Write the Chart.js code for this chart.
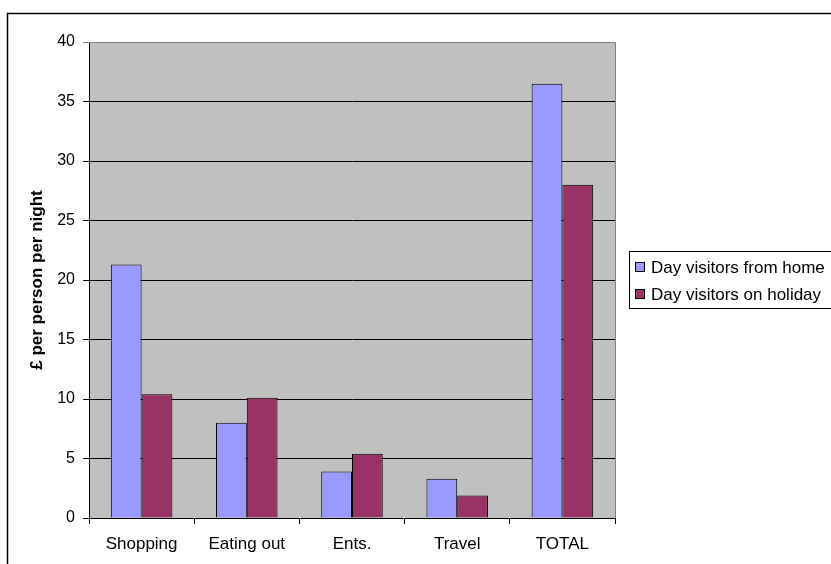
<!DOCTYPE html>
<html>
<head>
<meta charset="utf-8">
<script src="https://cdn.jsdelivr.net/npm/chart.js@4.4.0/dist/chart.umd.min.js"></script>
<style>
  html, body { margin: 0; padding: 0; background: #fff; }
  #wrap { position: relative; width: 831px; height: 564px; }
</style>
</head>
<body>
<div id="wrap"><canvas id="chart" width="831" height="564"></canvas></div>
<script>
// Dados
const categories = ['Shopping', 'Eating out', 'Ents.', 'Travel', 'TOTAL'];
const fromHome = [21.3, 8.0, 3.9, 3.3, 36.5];
const onHoliday = [10.4, 10.1, 5.4, 1.9, 28.0];
const seriesNames = ['Day visitors from home', 'Day visitors on holiday'];
const seriesColors = ['#9999FF', '#993366'];
const yTitle = '£ per person per night';

const FONT = '"Liberation Sans", Arial, sans-serif';

// Fundo cinza da área do gráfico e moldura externa
const plotBackground = {
  id: 'plotBackground',
  beforeDraw(chart) {
    const { ctx, chartArea: a } = chart;
    ctx.save();
    ctx.fillStyle = '#C0C0C0';
    ctx.fillRect(a.left, a.top, a.right - a.left, a.bottom - a.top);
    // moldura externa
    ctx.strokeStyle = '#000';
    ctx.lineWidth = 1.5;
    ctx.beginPath();
    ctx.moveTo(7.5, 600);
    ctx.lineTo(7.5, 13.5);
    ctx.lineTo(840, 13.5);
    ctx.stroke();
    ctx.restore();
  },
  beforeDatasetsDraw(chart) {
    const { ctx, chartArea: a } = chart;
    ctx.save();
    ctx.strokeStyle = '#808080';
    ctx.lineWidth = 1;
    ctx.beginPath();
    ctx.moveTo(a.left, Math.round(a.top) + 0.5);
    ctx.lineTo(Math.round(a.right) + 0.5, Math.round(a.top) + 0.5);
    ctx.lineTo(Math.round(a.right) + 0.5, a.bottom);
    ctx.stroke();
    ctx.restore();
  }
};

// Legenda desenhada à mão, no estilo do Excel
const boxLegend = {
  id: 'boxLegend',
  afterDraw(chart) {
    const { ctx } = chart;
    const x = 629.5, y = 251.5, h = 57;
    ctx.save();
    ctx.strokeStyle = '#000';
    ctx.lineWidth = 1;
    ctx.strokeRect(x, y, 260, h);
    ctx.font = '17px ' + FONT;
    ctx.textBaseline = 'middle';
    chart.data.datasets.forEach((ds, i) => {
      const cy = 267 + i * 27;
      ctx.fillStyle = ds.backgroundColor;
      ctx.fillRect(635.5, cy - 4.5, 9, 9);
      ctx.strokeRect(635.5, cy - 4.5, 9, 9);
      ctx.fillStyle = '#000';
      ctx.fillText(ds.label, 651, cy + 1);
    });
    ctx.restore();
  }
};

const ctx = document.getElementById('chart').getContext('2d');
new Chart(ctx, {
  type: 'bar',
  data: {
    labels: categories,
    datasets: [
      {
        label: seriesNames[0],
        data: fromHome,
        backgroundColor: seriesColors[0],
        borderColor: '#000',
        borderWidth: 1
      },
      {
        label: seriesNames[1],
        data: onHoliday,
        backgroundColor: seriesColors[1],
        borderColor: '#000',
        borderWidth: 1
      }
    ]
  },
  options: {
    responsive: false,
    animation: false,
    events: [],
    categoryPercentage: 0.585,
    barPercentage: 1.0,
    layout: { padding: { top: 42, right: 216, bottom: 0, left: 0 } },
    plugins: {
      legend: { display: false },
      tooltip: { enabled: false }
    },
    scales: {
      x: {
        afterFit: (s) => { s.height = 46; },
        grid: {
          offset: true,
          drawOnChartArea: false,
          drawTicks: true,
          tickLength: 6,
          color: '#000'
        },
        border: { color: '#000', width: 1 },
        ticks: {
          color: '#000',
          padding: 10,
          font: { family: FONT, size: 17 }
        }
      },
      y: {
        min: 0,
        max: 40,
        afterFit: (s) => { s.width = 89; },
        grid: {
          color: (c) => (c.tick && c.tick.value === 40 ? '#808080' : '#000'),
          tickLength: 6
        },
        border: { color: '#000', width: 1 },
        ticks: {
          stepSize: 5,
          color: '#000',
          padding: 8,
          font: { family: FONT, size: 16 }
        },
        title: {
          display: true,
          text: yTitle,
          color: '#000',
          padding: { top: 27, bottom: 0 },
          font: { family: FONT, size: 17, weight: 'bold' }
        }
      }
    }
  },
  plugins: [plotBackground, boxLegend]
});
</script>
</body>
</html>
